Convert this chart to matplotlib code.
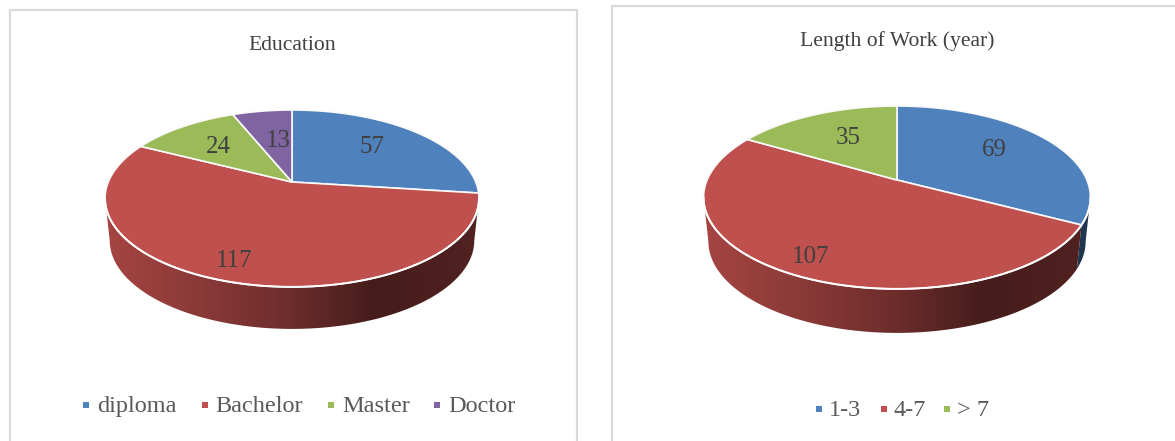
import numpy as np
import matplotlib
matplotlib.use("Agg")
import matplotlib.pyplot as plt
from matplotlib.patches import Polygon

plt.rcParams['font.family'] = ['Liberation Serif', 'DejaVu Serif']

# ---- data ----
edu_title = "Education"
edu_labels = ["diploma", "Bachelor", "Master", "Doctor"]
edu_values = [57, 117, 24, 13]
work_title = "Length of Work (year)"
work_labels = ["1-3", "4-7", "> 7"]
work_values = [69, 107, 35]

# ---- style ----
COLORS = ["#4F81BD", "#C0504D", "#9BBB59", "#8064A2"]
W, H = 1175, 441
STOPS_X = [0, .25, .5, .72, 1]
STOPS_F = [.86, .72, .56, .36, .42]

fig = plt.figure(figsize=(W / 100, H / 100), dpi=100, facecolor="white")
ax = fig.add_axes([0, 0, 1, 1])
ax.set_axis_off()


def rim(theta, g):
    """Perspective circle: theta in degrees clockwise from top."""
    t = np.radians(theta)
    c, s = np.sin(t), np.cos(t)
    w = 1 + g["k"] * s
    return g["cx"] + g["X"] * c / w, g["cy"] - g["Y"] * s / w


def draw_pie(values, g):
    v = np.asarray(values, float)
    edges = np.concatenate([[0], np.cumsum(v) / v.sum() * 360])
    th0 = np.degrees(np.arccos(-g["k"]))
    th1 = 360 - th0
    left, right = g["cx"] - g["rx"], g["cx"] + g["rx"]
    xs = np.linspace(0, 1, 300)
    fac = np.interp(xs, STOPS_X, STOPS_F)
    # side wall
    for i in range(len(v)):
        a, b = max(edges[i], th0), min(edges[i + 1], th1)
        if b <= a:
            continue
        th = np.linspace(a, b, 200)
        x, y = rim(th, g)
        xb = g["cx"] + (x - g["cx"]) * g["shrink"]
        yb = y + g["depth"]
        pts = np.r_[np.c_[x, y], np.c_[xb, yb][::-1]]
        rgb = np.array(matplotlib.colors.to_rgb(COLORS[i]))
        img = (fac[:, None] * rgb)[None, :, :]
        im = ax.imshow(img, extent=[left, right, g["cy"] + 200, g["cy"] - 50],
                       aspect="auto", zorder=2, interpolation="bilinear")
        patch = Polygon(pts, closed=True, transform=ax.transData,
                        facecolor="none", edgecolor="none")
        ax.add_patch(patch)
        im.set_clip_path(patch)
    # top faces
    for i in range(len(v)):
        th = np.linspace(edges[i], edges[i + 1], 240)
        x, y = rim(th, g)
        ax.fill(np.r_[g["cx"], x], np.r_[g["cy"], y], facecolor=COLORS[i],
                edgecolor="#FAFAFA", linewidth=1.2, zorder=3, joinstyle="round")
    # bright lower rim
    th = np.linspace(th0, th1, 300)
    x, y = rim(th, g)
    ax.plot(x, y, color="white", lw=1.4, zorder=4)


def text_block(title, tpos, labels, values, lpos, leg_sq, leg_tx, leg_y):
    ax.text(*tpos, title, ha="center", va="center", fontsize=15.6, color="#404040", zorder=6)
    for val, (x, y) in zip(values, lpos):
        ax.text(x, y, str(val), ha="center", va="center", fontsize=18, color="#404040", zorder=6)
    for i, lab in enumerate(labels):
        ax.scatter([leg_sq[i]], [leg_y], marker="s", s=22, color=COLORS[i], linewidths=0, zorder=6)
        ax.text(leg_tx[i], leg_y + 1.5, lab, ha="left", va="center", fontsize=17.5, color="#595959", zorder=6)


g1 = dict(cx=292, cy=182, X=183.7, Y=85.4, k=.186, rx=187, depth=42, shrink=.975)
g2 = dict(cx=897, cy=180, X=189.9, Y=88.1, k=.191, rx=193.5, depth=44, shrink=.975)
draw_pie(edu_values, g1)
draw_pie(work_values, g2)

text_block(edu_title, (292.5, 45), edu_labels, edu_values,
           [(372, 147), (234, 261), (218, 147), (278, 141)],
           [86, 205, 331, 437], [97, 215.5, 342, 448.5], 405)
text_block(work_title, (897, 41), work_labels, work_values,
           [(994, 150), (811, 257), (848, 138)],
           [819, 884, 947], [829, 893, 957], 409)

# panels
border = dict(color="#D9D9D9", lw=1.6, zorder=1, solid_capstyle="butt")
ax.plot([9.5, 9.5, 576.5, 576.5], [H, 10, 10, H], **border)
ax.plot([612, 612, W], [H, 6, 6], **border)

ax.set_xlim(0, W)
ax.set_ylim(H, 0)
fig.savefig("out.png", dpi=100, facecolor="white")
